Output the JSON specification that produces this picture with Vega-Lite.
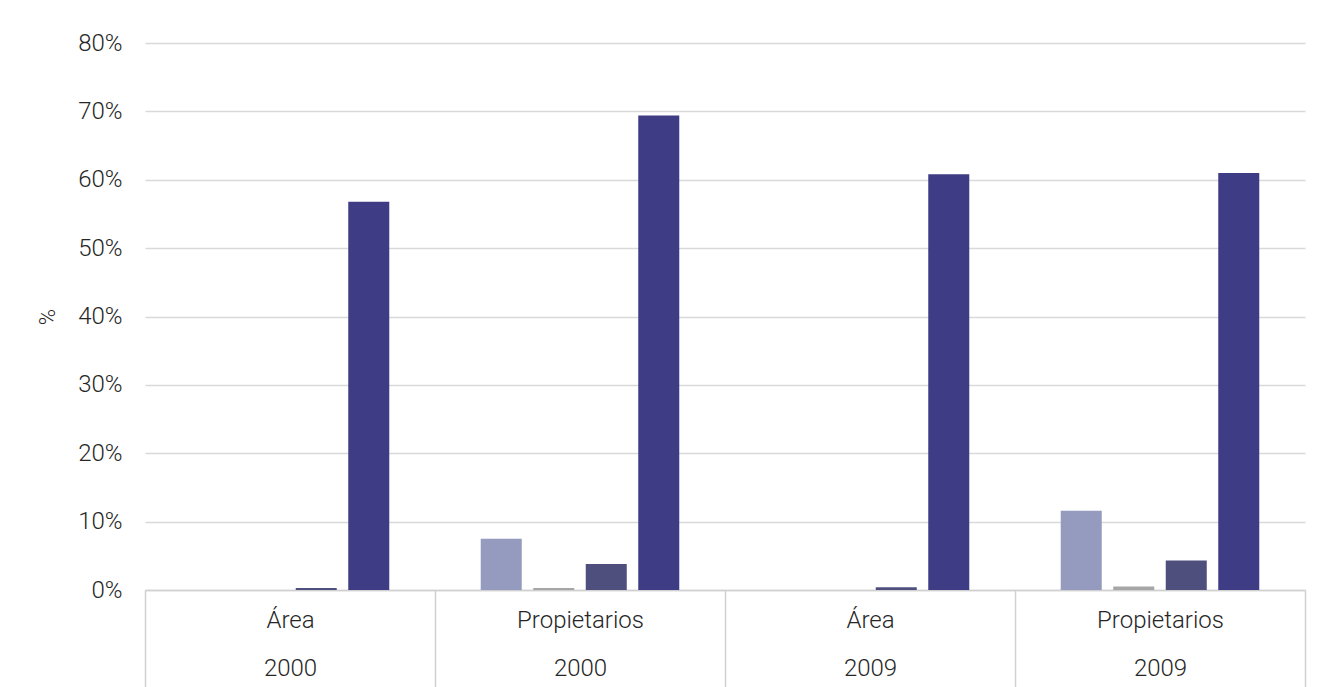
{
  "$schema": "https://vega.github.io/schema/vega-lite/v6.json",
  "width": 1160,
  "height": 547,
  "autosize": {"type": "none"},
  "padding": {"left": 145, "top": 43, "right": 19, "bottom": 97},
  "background": "white",
  "config": {
    "view": {"stroke": null},
    "font": "Roboto",
    "axis": {"labelFont": "Roboto", "labelFontWeight": 300, "labelColor": "#262626", "titleFont": "Roboto", "titleFontWeight": 300, "titleColor": "#262626"}
  },
  "data": {
    "values": [
      {"grupo": "Área|2000", "serie": "Serie 1", "valor": 0},
      {"grupo": "Área|2000", "serie": "Serie 2", "valor": 0},
      {"grupo": "Área|2000", "serie": "Serie 3", "valor": 0.003},
      {"grupo": "Área|2000", "serie": "Serie 4", "valor": 0.568},
      {"grupo": "Propietarios|2000", "serie": "Serie 1", "valor": 0.075},
      {"grupo": "Propietarios|2000", "serie": "Serie 2", "valor": 0.003},
      {"grupo": "Propietarios|2000", "serie": "Serie 3", "valor": 0.038},
      {"grupo": "Propietarios|2000", "serie": "Serie 4", "valor": 0.694},
      {"grupo": "Área|2009", "serie": "Serie 1", "valor": 0},
      {"grupo": "Área|2009", "serie": "Serie 2", "valor": 0},
      {"grupo": "Área|2009", "serie": "Serie 3", "valor": 0.004},
      {"grupo": "Área|2009", "serie": "Serie 4", "valor": 0.608},
      {"grupo": "Propietarios|2009", "serie": "Serie 1", "valor": 0.116},
      {"grupo": "Propietarios|2009", "serie": "Serie 2", "valor": 0.005},
      {"grupo": "Propietarios|2009", "serie": "Serie 3", "valor": 0.043},
      {"grupo": "Propietarios|2009", "serie": "Serie 4", "valor": 0.61}
    ]
  },
  "mark": {"type": "bar"},
  "encoding": {
    "x": {
      "field": "grupo",
      "type": "nominal",
      "sort": null,
      "scale": {"paddingInner": 0, "paddingOuter": 0},
      "axis": {
        "title": null,
        "labelAngle": 0,
        "labelExpr": "datum.value ? split(datum.value, '|') : ''",
        "labelFontSize": 24,
        "labelLineHeight": 48,
        "labelPadding": -79,
        "labelBaseline": "top",
        "tickBand": "extent",
        "tickSize": 97,
        "tickColor": "#d0d0d0",
        "tickWidth": 1.5,
        "domainColor": "#d0d0d0",
        "domainWidth": 1.5,
        "grid": false
      }
    },
    "xOffset": {
      "field": "serie",
      "type": "nominal",
      "scale": {"paddingInner": 0.219, "paddingOuter": 0.871}
    },
    "y": {
      "field": "valor",
      "type": "quantitative",
      "scale": {"domain": [0, 0.8]},
      "axis": {
        "title": "%",
        "titleFontSize": 22,
        "titlePadding": 18,
        "format": ".0%",
        "values": [0, 0.1, 0.2, 0.3, 0.4, 0.5, 0.6, 0.7, 0.8],
        "labelFontSize": 24,
        "labelPadding": 23,
        "ticks": false,
        "domain": false,
        "gridColor": "#d9d9d9",
        "gridWidth": 1.5
      }
    },
    "color": {
      "field": "serie",
      "type": "nominal",
      "legend": null,
      "scale": {
        "domain": ["Serie 1", "Serie 2", "Serie 3", "Serie 4"],
        "range": ["#959BBE", "#A6A6A6", "#4F4F7D", "#3E3C84"]
      }
    }
  }
}
